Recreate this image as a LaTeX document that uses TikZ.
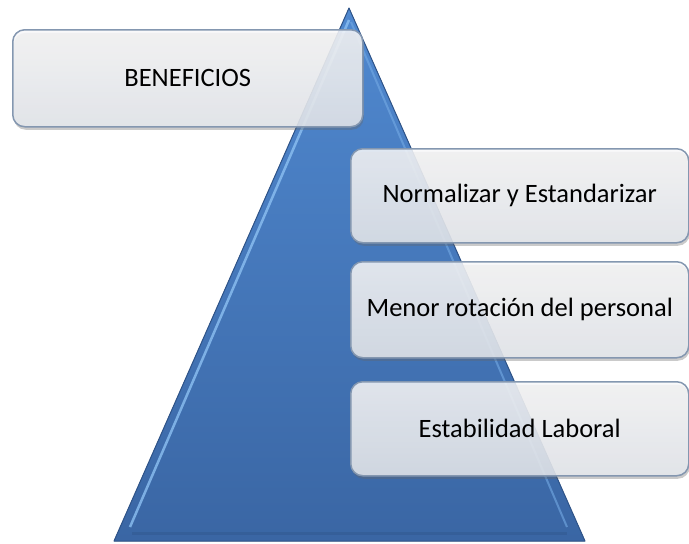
\documentclass[tikz,border=0pt]{standalone}
\usepackage{fontspec}
\setmainfont{Carlito}
\usetikzlibrary{shadows,fadings,calc}
\definecolor{triTop}{HTML}{5089D0}
\definecolor{triBot}{HTML}{3A66A4}
\definecolor{triEdge}{HTML}{2F5489}
\definecolor{triHi}{HTML}{8CC0F2}
\definecolor{boxTop}{HTML}{F8F8F9}
\definecolor{boxBot}{HTML}{E6E9EE}
\definecolor{boxLine}{HTML}{8497B0}
\tikzset{
  benbox/.style={draw=boxLine, line width=1.5pt, rounded corners=12pt,
    top color=boxTop, bottom color=boxBot, fill opacity=0.86, text opacity=1,
    drop shadow={shadow xshift=1pt, shadow yshift=-3pt, opacity=0.35, fill=black!60},
    font=\fontsize{26.5}{30}\selectfont, text=black, inner sep=0pt}
}
\begin{document}
\begin{tikzpicture}[x=1pt,y=-1pt]
\useasboundingbox (0,0) rectangle (689,544);
% triangle
\coordinate (apex) at (349,8);
\coordinate (bl) at (114,541);
\coordinate (br) at (585,541);
\fill[top color=triTop, bottom color=triBot] (apex) -- (br) -- (bl) -- cycle;
\draw[triEdge, line width=1pt, line join=round] (apex) -- (br) -- (bl) -- cycle;
% bevel highlights
\draw[triHi, line width=2.5pt, opacity=0.8] ($(apex)+(0,12)$) -- ($(bl)+(16,-14)$);
\draw[triHi!60!triTop, line width=2pt, opacity=0.6] ($(apex)+(2,14)$) -- ($(br)+(-18,-14)$);
\draw[triEdge!70!triBot, line width=3pt, opacity=0.6] ($(bl)+(18,-8)$) -- ($(br)+(-18,-8)$);
% boxes
\node[benbox, minimum width=350pt, minimum height=97pt, anchor=north west] (ben) at (12,29) {BENEFICIOS};
\node[benbox, minimum width=338pt, minimum height=94pt, anchor=north west] (n1) at (350,148) {Normalizar y Estandarizar};
\node[benbox, minimum width=338pt, minimum height=96pt, anchor=north west] (n2) at (350,261) {Menor rotación del personal};
\node[benbox, minimum width=338pt, minimum height=94pt, anchor=north west] (n3) at (350,381) {Estabilidad Laboral};
\end{tikzpicture}
\end{document}
